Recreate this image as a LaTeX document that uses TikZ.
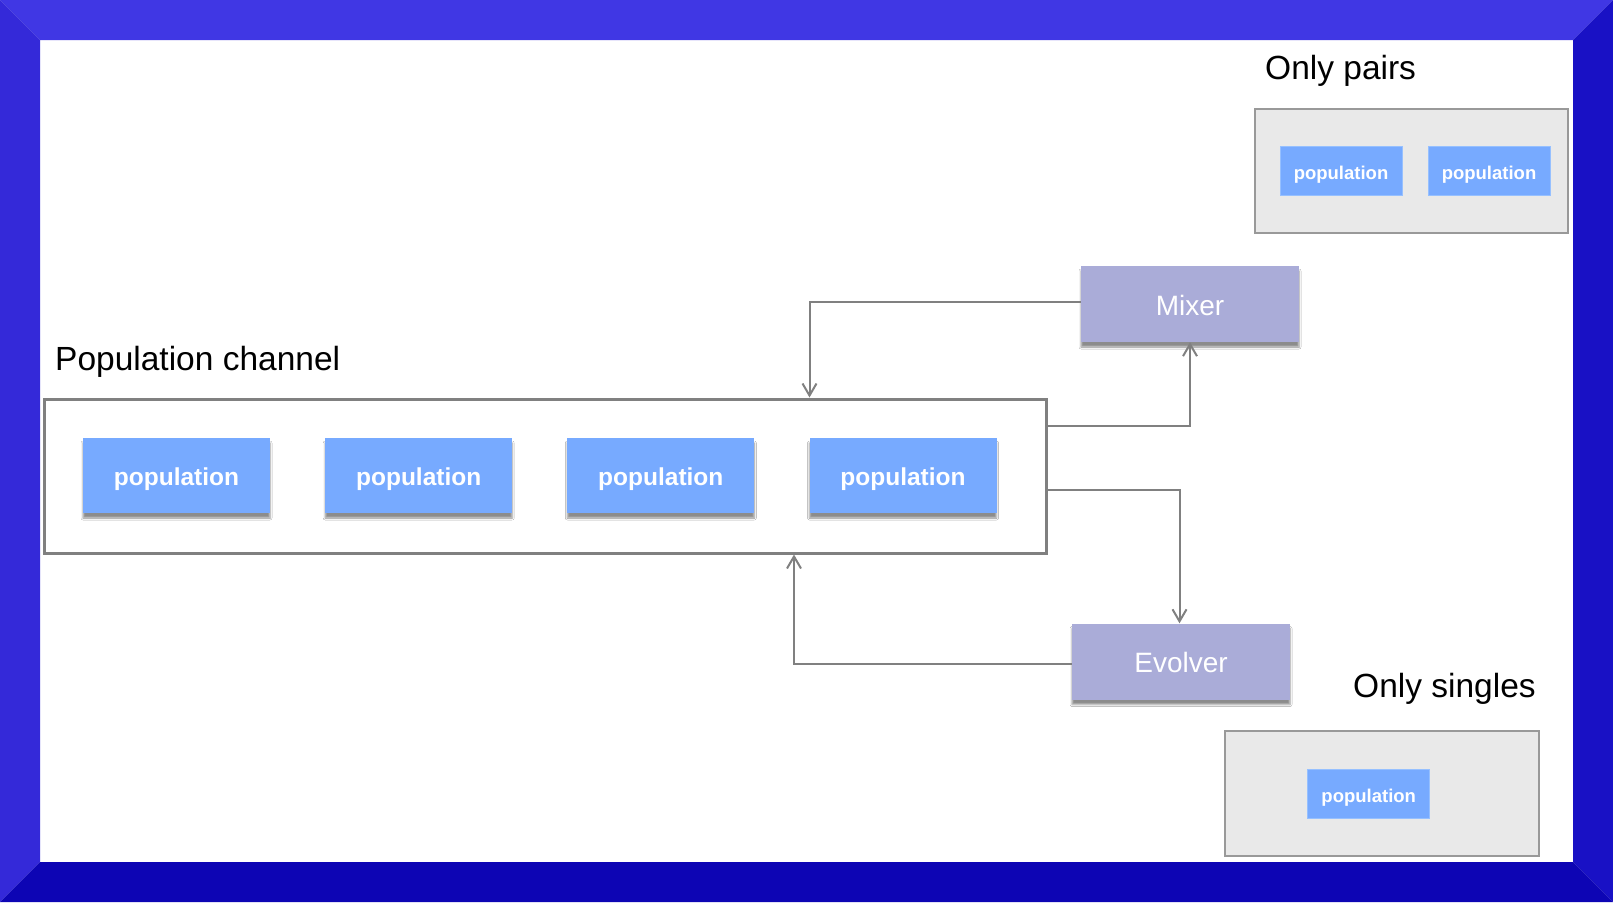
\documentclass[tikz,border=0pt]{standalone}
\usepackage{fontspec}
\setmainfont{Liberation Sans}
\usetikzlibrary{arrows.meta,shadows.blur}
\definecolor{frameTop}{RGB}{64,55,228}
\definecolor{frameLeft}{RGB}{52,41,217}
\definecolor{frameRight}{RGB}{25,17,197}
\definecolor{frameBottom}{RGB}{13,5,180}
\definecolor{popBlue}{RGB}{119,170,255}
\definecolor{popEdge}{RGB}{150,192,255}
\definecolor{stageViolet}{RGB}{170,172,216}
\definecolor{lineGray}{RGB}{128,128,128}
\definecolor{panelGray}{RGB}{233,233,233}
\definecolor{panelEdge}{RGB}{153,153,153}
\tikzset{
  softshadow/.style={blur shadow={shadow xshift=0pt, shadow yshift=-5pt,
    shadow blur radius=2pt, shadow opacity=45}},
  popbig/.style={rectangle, fill=popBlue, minimum width=187pt, minimum height=75pt,
    inner sep=0pt, text=white, font=\bfseries\fontsize{24.5}{28}\selectfont,
    text height=20pt, text depth=0pt, softshadow},
  popsmall/.style={rectangle, fill=popBlue, draw=popEdge, line width=1pt,
    minimum width=122pt, minimum height=49pt, inner sep=0pt, text=white,
    font=\bfseries\fontsize{18.5}{22}\selectfont, text height=17.5pt, text depth=0pt},
  stagebox/.style={rectangle, fill=stageViolet, minimum width=218pt, minimum height=76pt,
    inner sep=0pt, text=white, font=\fontsize{28}{32}\selectfont,
    text height=22pt, text depth=0pt, softshadow},
  panel/.style={rectangle, fill=panelGray, draw=panelEdge, line width=2pt, inner sep=0pt},
  heading/.style={anchor=base west, inner sep=0pt, text=black, font=\fontsize{33.5}{37}\selectfont},
  conn/.style={draw=lineGray, line width=2pt, -{Straight Barb[length=12pt,width=14pt]}},
}
\begin{document}
\begin{tikzpicture}[x=1pt,y=-1pt]
  \useasboundingbox (0,0) rectangle (1613,902);
  % bevelled frame
  \fill[white] (40,40) rectangle (1573,862);
  \fill[frameTop] (0,0) -- (1613,0) -- (1573,40) -- (40,40) -- cycle;
  \fill[frameLeft] (0,0) -- (40,40) -- (40,862) -- (0,902) -- cycle;
  \fill[frameRight] (1613,0) -- (1613,902) -- (1573,862) -- (1573,40) -- cycle;
  \fill[frameBottom] (0,902) -- (40,862) -- (1573,862) -- (1613,902) -- cycle;

  % population channel
  \node[heading] (chanlabel) at (55,370) {Population channel};
  \node[rectangle, draw=lineGray, line width=3pt, minimum width=1002pt, minimum height=154pt,
        inner sep=0pt] (chan) at (545,476) {};
  \node[popbig] (p1) at (176.5,475.5) {population};
  \node[popbig] (p2) at (418.7,475.5) {population};
  \node[popbig] (p3) at (660.8,475.5) {population};
  \node[popbig] (p4) at (903,475.5) {population};

  % stages
  \node[stagebox] (mixer) at (1190,304) {Mixer};
  \node[stagebox] (evolver) at (1181,661.5) {Evolver};

  % pairs panel
  \node[heading] (pairslabel) at (1265,79) {Only pairs};
  \node[panel, minimum width=313pt, minimum height=124pt] (pairs) at (1411.5,171) {};
  \node[popsmall] (pp1) at (1341,170.5) {population};
  \node[popsmall] (pp2) at (1489,170.5) {population};

  % singles panel
  \node[heading] (singleslabel) at (1353,697) {Only singles};
  \node[panel, minimum width=314pt, minimum height=125pt] (singles) at (1382,793.5) {};
  \node[popsmall] (sp1) at (1368.7,793.5) {population};

  % connectors
  \draw[conn] ([yshift=2pt]mixer.west) -| ([xshift=264.5pt]chan.north);
  \draw[conn] ([yshift=50pt]chan.east) -| (mixer.south);
  \draw[conn] ([yshift=-14pt]chan.east) -| ([xshift=-1.5pt]evolver.north);
  \draw[conn] ([yshift=-2pt]evolver.west) -| ([xshift=249pt]chan.south);
\end{tikzpicture}
\end{document}
